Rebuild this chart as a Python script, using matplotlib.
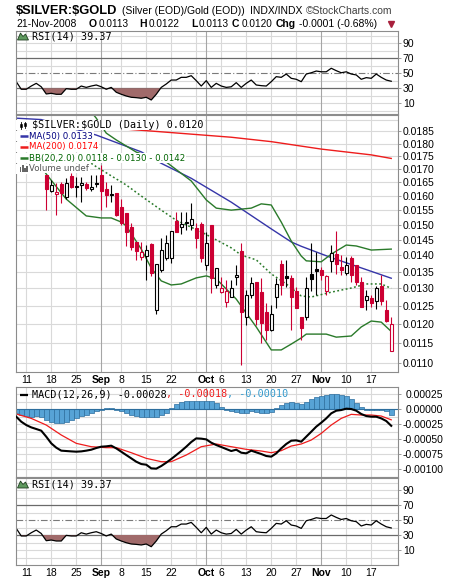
import numpy as np
import matplotlib
matplotlib.use("Agg")
import matplotlib.pyplot as plt
from matplotlib.patches import Rectangle, Polygon

W, H, DPI = 460, 582, 100

# ---------------- data ----------------
# trading-day index: 0 = 7-Aug-2008 ... 75 = 21-Nov-2008
x_tick_days = [2, 7, 12, 17, 21, 26, 31, 38, 41, 46, 51, 56, 61, 66, 71]
x_tick_labels = ["11", "18", "25", "Sep", "8", "15", "22", "Oct", "6", "13", "20", "27", "Nov", "10", "17"]
month_labels = ["Sep", "Oct", "Nov"]
month_days = [17, 38, 61]
week_days = [2, 7, 12, 21, 26, 31, 36, 41, 46, 51, 56, 66, 71]

candle_days = list(range(6, 76))
opens = [0.01677, 0.01618, 0.01607, 0.01644, 0.01598, 0.01673, 0.01636, 0.01640, 0.01644, 0.01624,
         0.01649, 0.01677, 0.01624, 0.01606, 0.01610, 0.01562, 0.01541, 0.01493, 0.01444, 0.01396,
         0.01399, 0.01436, 0.01238, 0.01355, 0.01391, 0.01391, 0.01514, 0.01491, 0.01505, 0.01499,
         0.01488, 0.01502, 0.01370, 0.01499, 0.01310, 0.01289, 0.01260, 0.01276, 0.01333, 0.01415,
         0.01220, 0.01281, 0.01319, 0.01288, 0.01234, 0.01184, 0.01274, 0.01372, 0.01337, 0.01330,
         0.01291, 0.01218, 0.01220, 0.01342, 0.01358, 0.01355, 0.01291, 0.01383, 0.01403, 0.01365,
         0.01347, 0.01391, 0.01370, 0.01320, 0.01267, 0.01271, 0.01264, 0.01307, 0.01238, 0.01130]
highs = [0.01677, 0.01659, 0.01647, 0.01652, 0.01665, 0.01684, 0.01671, 0.01671, 0.01652, 0.01677,
         0.01677, 0.01715, 0.01652, 0.01640, 0.01610, 0.01591, 0.01541, 0.01505, 0.01444, 0.01444,
         0.01433, 0.01439, 0.01372, 0.01455, 0.01466, 0.01480, 0.01545, 0.01545, 0.01545, 0.01576,
         0.01505, 0.01510, 0.01477, 0.01499, 0.01360, 0.01335, 0.01325, 0.01325, 0.01370, 0.01441,
         0.01295, 0.01335, 0.01319, 0.01330, 0.01257, 0.01253, 0.01330, 0.01386, 0.01386, 0.01340,
         0.01305, 0.01220, 0.01335, 0.01439, 0.01412, 0.01365, 0.01340, 0.01433, 0.01479, 0.01402,
         0.01396, 0.01398, 0.01370, 0.01335, 0.01295, 0.01281, 0.01307, 0.01340, 0.01267, 0.01220]
lows = [0.01550, 0.01614, 0.01533, 0.01574, 0.01588, 0.01628, 0.01598, 0.01580, 0.01622, 0.01619,
        0.01634, 0.01550, 0.01562, 0.01580, 0.01530, 0.01499, 0.01430, 0.01417, 0.01386, 0.01386,
        0.01325, 0.01337, 0.01227, 0.01350, 0.01386, 0.01375, 0.01477, 0.01469, 0.01482, 0.01482,
        0.01423, 0.01380, 0.01355, 0.01286, 0.01300, 0.01286, 0.01248, 0.01274, 0.01310, 0.01095,
        0.01197, 0.01271, 0.01197, 0.01149, 0.01158, 0.01182, 0.01243, 0.01281, 0.01305, 0.01184,
        0.01243, 0.01158, 0.01211, 0.01291, 0.01281, 0.01325, 0.01281, 0.01350, 0.01343, 0.01340,
        0.01340, 0.01320, 0.01310, 0.01246, 0.01238, 0.01246, 0.01240, 0.01253, 0.01206, 0.01130]
closes = [0.01624, 0.01640, 0.01615, 0.01610, 0.01649, 0.01631, 0.01634, 0.01649, 0.01628, 0.01634,
          0.01643, 0.01619, 0.01604, 0.01605, 0.01533, 0.01505, 0.01477, 0.01426, 0.01415, 0.01412,
          0.01417, 0.01347, 0.01372, 0.01417, 0.01441, 0.01480, 0.01477, 0.01502, 0.01510, 0.01518,
          0.01455, 0.01391, 0.01439, 0.01330, 0.01360, 0.01302, 0.01293, 0.01302, 0.01340, 0.01234,
          0.01281, 0.01317, 0.01213, 0.01202, 0.01184, 0.01227, 0.01312, 0.01309, 0.01330, 0.01274,
          0.01243, 0.01188, 0.01300, 0.01327, 0.01353, 0.01340, 0.01338, 0.01409, 0.01373, 0.01355,
          0.01370, 0.01340, 0.01320, 0.01248, 0.01278, 0.01257, 0.01302, 0.01264, 0.01208, 0.01200]

ma50_days = [0, 5, 16, 25, 29, 35, 43, 51, 55, 57, 63, 70, 75]
ma50_vals = [0.01906, 0.01900, 0.01835, 0.01767, 0.01722, 0.01665, 0.01578, 0.01486, 0.01443,
             0.01429, 0.01393, 0.01356, 0.01330]
ma200_days = [0, 28, 43, 51, 61, 71, 75]
ma200_vals = [0.01895, 0.01850, 0.01826, 0.01808, 0.01778, 0.01755, 0.01741]

bb_up_days = [14, 16, 18, 20, 24, 30, 35, 38, 40, 43, 47, 49, 51, 53, 55, 57, 58, 61, 63, 66, 68, 71, 75]
bb_up_vals = [0.01960, 0.01906, 0.01843, 0.01815, 0.01766, 0.01727, 0.01655, 0.01586, 0.01557,
              0.01550, 0.01557, 0.01572, 0.01568, 0.01509, 0.01446, 0.01398, 0.01383, 0.01380,
              0.01404, 0.01433, 0.01430, 0.01417, 0.01420]
bb_mid_days = [15, 16, 22, 25, 29, 32, 37, 43, 45, 48, 51, 54, 57, 59, 63, 67, 70, 73, 75]
bb_mid_vals = [0.01722, 0.01709, 0.01640, 0.01600, 0.01550, 0.01515, 0.01476, 0.01424, 0.01401,
               0.01386, 0.01343, 0.01313, 0.01278, 0.01275, 0.01289, 0.01301, 0.01313, 0.01313, 0.01300]
bb_lo_days = [5, 6, 10, 14, 17, 19, 21, 22, 25, 27, 29, 31, 33, 36, 38, 40, 44, 48, 51, 53, 55,
              57, 58, 62, 64, 67, 69, 71, 73, 75]
bb_lo_vals = [0.01710, 0.01681, 0.01589, 0.01530, 0.01523, 0.01523, 0.01509, 0.01496, 0.01420,
              0.01361, 0.01322, 0.01310, 0.01313, 0.01331, 0.01337, 0.01328, 0.01269, 0.01192,
              0.01132, 0.01132, 0.01147, 0.01163, 0.01173, 0.01173, 0.01165, 0.01168, 0.01192,
              0.01208, 0.01205, 0.01180]

rsi_days = list(range(0, 76))
rsi_vals = [38.8, 28.7, 28.7, 33, 36.6, 32, 22.4, 23.3, 22, 22,
            29.5, 28.7, 28.7, 33, 31.2, 33, 34.4, 32, 28.7, 31.2,
            24.7, 22, 19.7, 18, 17.5, 16.7, 18, 14.4, 22, 31.2,
            35.7, 41, 41, 44.6, 44.6, 46.8, 40.2, 33, 40.2, 31.2,
            36.6, 33, 31.2, 32, 37.5, 31.2, 36.6, 41, 34.4, 33.5,
            33, 38.8, 45.5, 44.6, 49, 43.3, 42, 38.8, 49, 50.7,
            53, 52, 52, 56.7, 53.5, 50.7, 52, 49, 47.8, 42,
            44.2, 43.3, 49, 44.6, 41, 39.37]

macd_days = list(range(0, 76))
macd_vals = [-0.000128, -0.000211, -0.000267, -0.000306, -0.000333, -0.000361, -0.000461, -0.000572,
             -0.000644, -0.000694, -0.000700, -0.000706, -0.000711, -0.000706, -0.000694, -0.000678,
             -0.000650, -0.000628, -0.000622, -0.000611, -0.000656, -0.000711, -0.000767, -0.000822,
             -0.000878, -0.000917, -0.000928, -0.000989, -0.000994, -0.000950, -0.000894, -0.000833,
             -0.000767, -0.000700, -0.000628, -0.000550, -0.000489, -0.000494, -0.000506, -0.000561,
             -0.000600, -0.000633, -0.000667, -0.000700, -0.000678, -0.000728, -0.000739, -0.000694,
             -0.000722, -0.000750, -0.000783, -0.000794, -0.000739, -0.000656, -0.000583, -0.000528,
             -0.000522, -0.000544, -0.000461, -0.000378, -0.000294, -0.000228, -0.000156, -0.000072,
             -0.000028, -0.000017, 0.000006, 0.000000, -0.000028, -0.000083, -0.000117, -0.000128,
             -0.000128, -0.000156, -0.000200, -0.000280]
signal_days = [0, 3, 6, 9, 12, 15, 18, 20, 23, 26, 29, 31, 34, 37, 40, 43, 46, 49, 51, 53, 55, 57,
               59, 61, 63, 65, 67, 69, 71, 73, 75]
signal_vals = [-0.000083, -0.000156, -0.000267, -0.000433, -0.000572, -0.000628, -0.000644, -0.000644,
               -0.000728, -0.000822, -0.000878, -0.000878, -0.000767, -0.000628, -0.000583, -0.000628,
               -0.000672, -0.000700, -0.000728, -0.000694, -0.000617, -0.000583, -0.000517, -0.000406,
               -0.000267, -0.000156, -0.000089, -0.000100, -0.000100, -0.000117, -0.000180]
hist_vals = [-0.00006, -0.00010, -0.00012, -0.00013, -0.00012, -0.00013, -0.00018, -0.00022, -0.00024, -0.00024,
             -0.00022, -0.00019, -0.00015, -0.00012, -0.00010, -0.00007, -0.00003, -0.00001, 0.00001, 0.00001,
             -0.00001, -0.00004, -0.00007, -0.00010, -0.00012, -0.00013, -0.00014, -0.00014, -0.00013, -0.00010,
             -0.00006, 0.00002, 0.00008, 0.00011, 0.00013, 0.00014, 0.00014, 0.00014, 0.00014, 0.00013,
             0.00010, 0.00004, -0.00001, -0.00004, -0.00005, -0.00006, -0.00006, -0.00003, -0.00005, -0.00006,
             -0.00007, -0.00005, 0.00002, 0.00007, 0.00010, 0.00012, 0.00010, 0.00008, 0.00012, 0.00016,
             0.00020, 0.00022, 0.00024, 0.00025, 0.00025, 0.00024, 0.00021, 0.00016, 0.00010, 0.00003,
             -0.00001, -0.00002, -0.00001, -0.00002, -0.00004, -0.00010]

price_ticks = [0.0110, 0.0115, 0.0120, 0.0125, 0.0130, 0.0135, 0.0140, 0.0145, 0.0150,
               0.0155, 0.0160, 0.0165, 0.0170, 0.0175, 0.0180, 0.0185]
rsi_ticks = [10, 30, 50, 70, 90]
macd_ticks = [-0.00100, -0.00075, -0.00050, -0.00025, 0.0, 0.00025]

# ---------------- styling ----------------
plt.rcParams['font.family'] = ['Liberation Sans', 'DejaVu Sans']
GRID = '#d9d9d9'
MONTH = '#a6a6a6'
SPINE = '#8c8c8c'
RED = '#cc0033'
TICKFS = 7.5
XMIN, XMAX = -0.05, 76.35

fig = plt.figure(figsize=(W / DPI, H / DPI), dpi=DPI)
fig.patch.set_facecolor('white')


def frac(x0, y0, x1, y1):
    return [x0 / W, 1 - y1 / H, (x1 - x0) / W, (y1 - y0) / H]


def base(ax, show_x=False):
    ax.set_xlim(XMIN, XMAX)
    ax.set_facecolor('white')
    for s in ax.spines.values():
        s.set_color(SPINE)
        s.set_linewidth(0.8)
    for d in week_days:
        ax.axvline(d, color=GRID, lw=0.8, zorder=0.5)
    for d in month_days:
        ax.axvline(d, color=MONTH, lw=0.8, zorder=0.6)
    ax.yaxis.tick_right()
    ax.tick_params(axis='y', which='both', length=2, width=0.6, color=SPINE,
                   labelsize=TICKFS, pad=1.5)
    ax.tick_params(axis='x', which='both', length=0, labelsize=TICKFS, pad=2.5)
    ax.set_xticks(x_tick_days)
    if show_x:
        ax.set_xticklabels(x_tick_labels)
        for t in ax.get_xticklabels():
            if t.get_text() in month_labels:
                t.set_fontweight('bold')
    else:
        ax.set_xticklabels([])


def rsi_panel(ax, ylo, yhi, show_x):
    base(ax, show_x)
    ax.set_ylim(ylo, yhi)
    for lv in range(0, 101, 10):
        if lv in (30, 70):
            ax.axhline(lv, color='#6a6a6a', lw=0.9, zorder=0.7)
        elif lv == 50:
            ax.axhline(lv, color='#7a7a7a', lw=0.8, ls=(0, (6, 2, 1, 2)), zorder=0.7)
        else:
            ax.axhline(lv, color=GRID, lw=0.8, zorder=0.5)
    r = np.array(rsi_vals)
    ax.fill_between(rsi_days, r, 30, where=r < 30, interpolate=True,
                    color='#a06a6a', lw=0, zorder=1)
    ax.plot(rsi_days, r, color='black', lw=0.9, zorder=2)
    ax.set_yticks(rsi_ticks)
    ax.set_yticklabels([str(v) for v in rsi_ticks])


# ---- top RSI ----
ax_r1 = fig.add_axes(frac(16, 31, 398, 114))
rsi_panel(ax_r1, -4.3, 106.4, False)

# ---- price ----
ax_p = fig.add_axes(frac(16, 115, 398, 372))
base(ax_p, True)
ax_p.set_yscale('log')
ax_p.set_ylim(0.010772, 0.019196)
ax_p.yaxis.set_minor_locator(matplotlib.ticker.NullLocator())
ax_p.set_yticks(price_ticks)
ax_p.set_yticklabels(['%.4f' % v for v in price_ticks])
for v in price_ticks + [0.0190]:
    ax_p.axhline(v, color=GRID, lw=0.8, zorder=0.5)

ax_p.plot(ma200_days, ma200_vals, color='#ee1c1c', lw=1.0, zorder=2)
ax_p.plot(ma50_days, ma50_vals, color='#3535a8', lw=1.0, zorder=2)
ax_p.plot(bb_up_days, bb_up_vals, color='#2a7a2a', lw=1.0, zorder=2)
ax_p.plot(bb_lo_days, bb_lo_vals, color='#2a7a2a', lw=1.0, zorder=2)
ax_p.plot(bb_mid_days, bb_mid_vals, color='#2a7a2a', lw=1.1, ls=(0, (1.2, 1.6)), zorder=2)

o = np.array(opens)
hh = np.array(highs)
ll = np.array(lows)
c = np.array(closes)
prev = np.concatenate([[o[0]], c[:-1]])
cols = np.where(c >= prev, 'black', RED)
faces = np.where(c > o, 'white', cols)
ax_p.vlines(candle_days, ll, hh, colors=cols, lw=0.8, zorder=3)
bot = np.minimum(o, c)
top = np.maximum(o, c)
ax_p.bar(candle_days, top - bot, bottom=bot, width=0.62, color=faces,
         edgecolor=cols, lw=0.8, zorder=4)

# ---- MACD ----
ax_m = fig.add_axes(frac(16, 387, 398, 477))
base(ax_m, False)
ax_m.set_ylim(-0.001133, 0.000367)
for k in range(-9, 3):
    ax_m.axhline(k * 0.000125, color=GRID, lw=0.8, zorder=0.5)
ax_m.bar(macd_days, hist_vals, width=1.0, color='#57a3d6', edgecolor='#2d6e9e',
         lw=0.5, zorder=1.5)
ax_m.axhline(0, color='#2d6e9e', lw=0.8, zorder=1.6)
ax_m.plot(signal_days, signal_vals, color='#ee1c1c', lw=0.9, zorder=2)
ax_m.plot(macd_days, macd_vals, color='black', lw=1.5, zorder=3)
ax_m.set_yticks(macd_ticks)
ax_m.set_yticklabels(['%.5f' % v if v != 0 else '0.00000' for v in macd_ticks])
ax_m.tick_params(axis='y', pad=30.5)
for t in ax_m.get_yticklabels():
    t.set_horizontalalignment('right')

# ---- bottom RSI ----
ax_r2 = fig.add_axes(frac(16, 478, 398, 565))
rsi_panel(ax_r2, -10, 106, True)

# ---------------- overlay: titles & legends (pixel coords) ----------------
ov = fig.add_axes([0, 0, 1, 1], zorder=10)
ov.set_xlim(0, W)
ov.set_ylim(H, 0)
ov.axis('off')
ov.patch.set_alpha(0)

MONO = 'DejaVu Sans Mono'
y1 = 14
ov.text(16, y1, "$SILVER:$GOLD", fontsize=9.3, fontweight='bold', va='baseline',
        parse_math=False)
ov.text(122.5, y1, "(Silver (EOD)/Gold (EOD))", fontsize=7.5, va='baseline')
ov.text(250, y1, "INDX/INDX", fontsize=7.5, va='baseline')
ov.text(306, y1, "\u00a9StockCharts.com", fontsize=7.5, va='baseline', color='#404040')

y2 = 26.7
ov.text(16, y2, "21-Nov-2008", fontsize=7.5, va='baseline')
for xb, sb, xv, sv in [(89, "O", 98.5, "0.0113"), (139.5, "H", 148.5, "0.0122"),
                       (191, "L", 199, "0.0113"), (232, "C", 241.5, "0.0120")]:
    ov.text(xb, y2, sb, fontsize=7.5, fontweight='bold', va='baseline')
    ov.text(xv, y2, sv, fontsize=7.2, va='baseline')
ov.text(276, y2, "Chg", fontsize=7.5, fontweight='bold', va='baseline')
ov.text(299, y2, "-0.0001 (-0.68%)", fontsize=7.5, va='baseline')
ov.plot([391], [24], marker='v', color='#a8203c', markersize=4, ls='none')


def rsi_legend(yc):
    ov.add_patch(Polygon([[17.5, yc + 3.5], [20.5, yc - 3.5], [23, yc], [25.5, yc - 2.5],
                          [28.5, yc + 3.5]], closed=True, facecolor='#5f9a5f',
                         edgecolor='#1f3f1f', lw=0.6))
    ov.text(32, yc, "RSI(14) 39.37", fontsize=7.3, family=MONO, va='center')


rsi_legend(36.5)
rsi_legend(484.5)

# MACD legend
ym = 394.5
ov.plot([20, 28], [ym, ym], color='black', lw=1.6, solid_capstyle='butt')
ov.text(31.7, ym, "MACD(12,26,9) -0.00028", fontsize=7.3, family=MONO, va='center')
ov.text(31.7 + 22 * 6.09, ym, ", -0.00018", fontsize=7.3, family=MONO, va='center',
        color='#ee1c1c')
ov.text(31.7 + 32 * 6.09, ym, ", -0.00010", fontsize=7.3, family=MONO, va='center',
        color='#3399cc')

# price legend rows with white backgrounds
BOX = dict(facecolor='white', edgecolor='none', pad=0.3)
yh = 125.3
ov.add_patch(Rectangle((16.5, 120), 188.5, 9.5, facecolor='white', edgecolor='none', zorder=2))
ov.text(32, yh, "$SILVER:$GOLD (Daily) 0.0120", fontsize=7.3, family=MONO, va='center',
        parse_math=False, zorder=3)
for xx, y0, yy1, yb0, yb1 in [(21, yh - 3, yh + 3.5, yh - 1.5, yh + 1.5),
                               (25, yh - 3.5, yh + 3, yh - 2, yh + 1)]:
    ov.plot([xx, xx], [y0, yy1], color='black', lw=0.6, zorder=4)
    ov.add_patch(Rectangle((xx - 1.2, yb0), 2.4, yb1 - yb0, facecolor='black',
                           edgecolor='black', lw=0.4, zorder=4))

rows = [(136, '#3535a8', '#000080', "MA(50) 0.0133"),
        (147, '#ee1c1c', '#ff0000', "MA(200) 0.0174"),
        (158, '#2a7a2a', '#006400', "BB(20,2.0) 0.0118 - 0.0130 - 0.0142")]
for yc, lc, tc, s in rows:
    ov.add_patch(Rectangle((16.5, yc - 5), 13, 10, facecolor='white', edgecolor='none', zorder=2))
    ov.text(29.3, yc, s, fontsize=6.2, color=tc, va='center', family='DejaVu Sans',
            bbox=BOX, zorder=3)
    ov.plot([20.5, 28.5], [yc, yc], color=lc, lw=1.8, solid_capstyle='butt', zorder=4)

yv = 168.5
ov.add_patch(Rectangle((16.5, yv - 5), 13, 10, facecolor='white', edgecolor='none', zorder=2))
ov.text(29.3, yv, "Volume undef", fontsize=6.2, color='#555555', va='center',
        family='DejaVu Sans', bbox=BOX, zorder=3)
for xx, hgt in [(20.5, 5), (22.8, 7), (25.1, 4), (27.4, 6)]:
    ov.add_patch(Rectangle((xx - 0.9, yv + 3 - hgt), 1.8, hgt, facecolor='#666666',
                           edgecolor='none', zorder=4))

fig.savefig("out.png", dpi=DPI, facecolor='white')
